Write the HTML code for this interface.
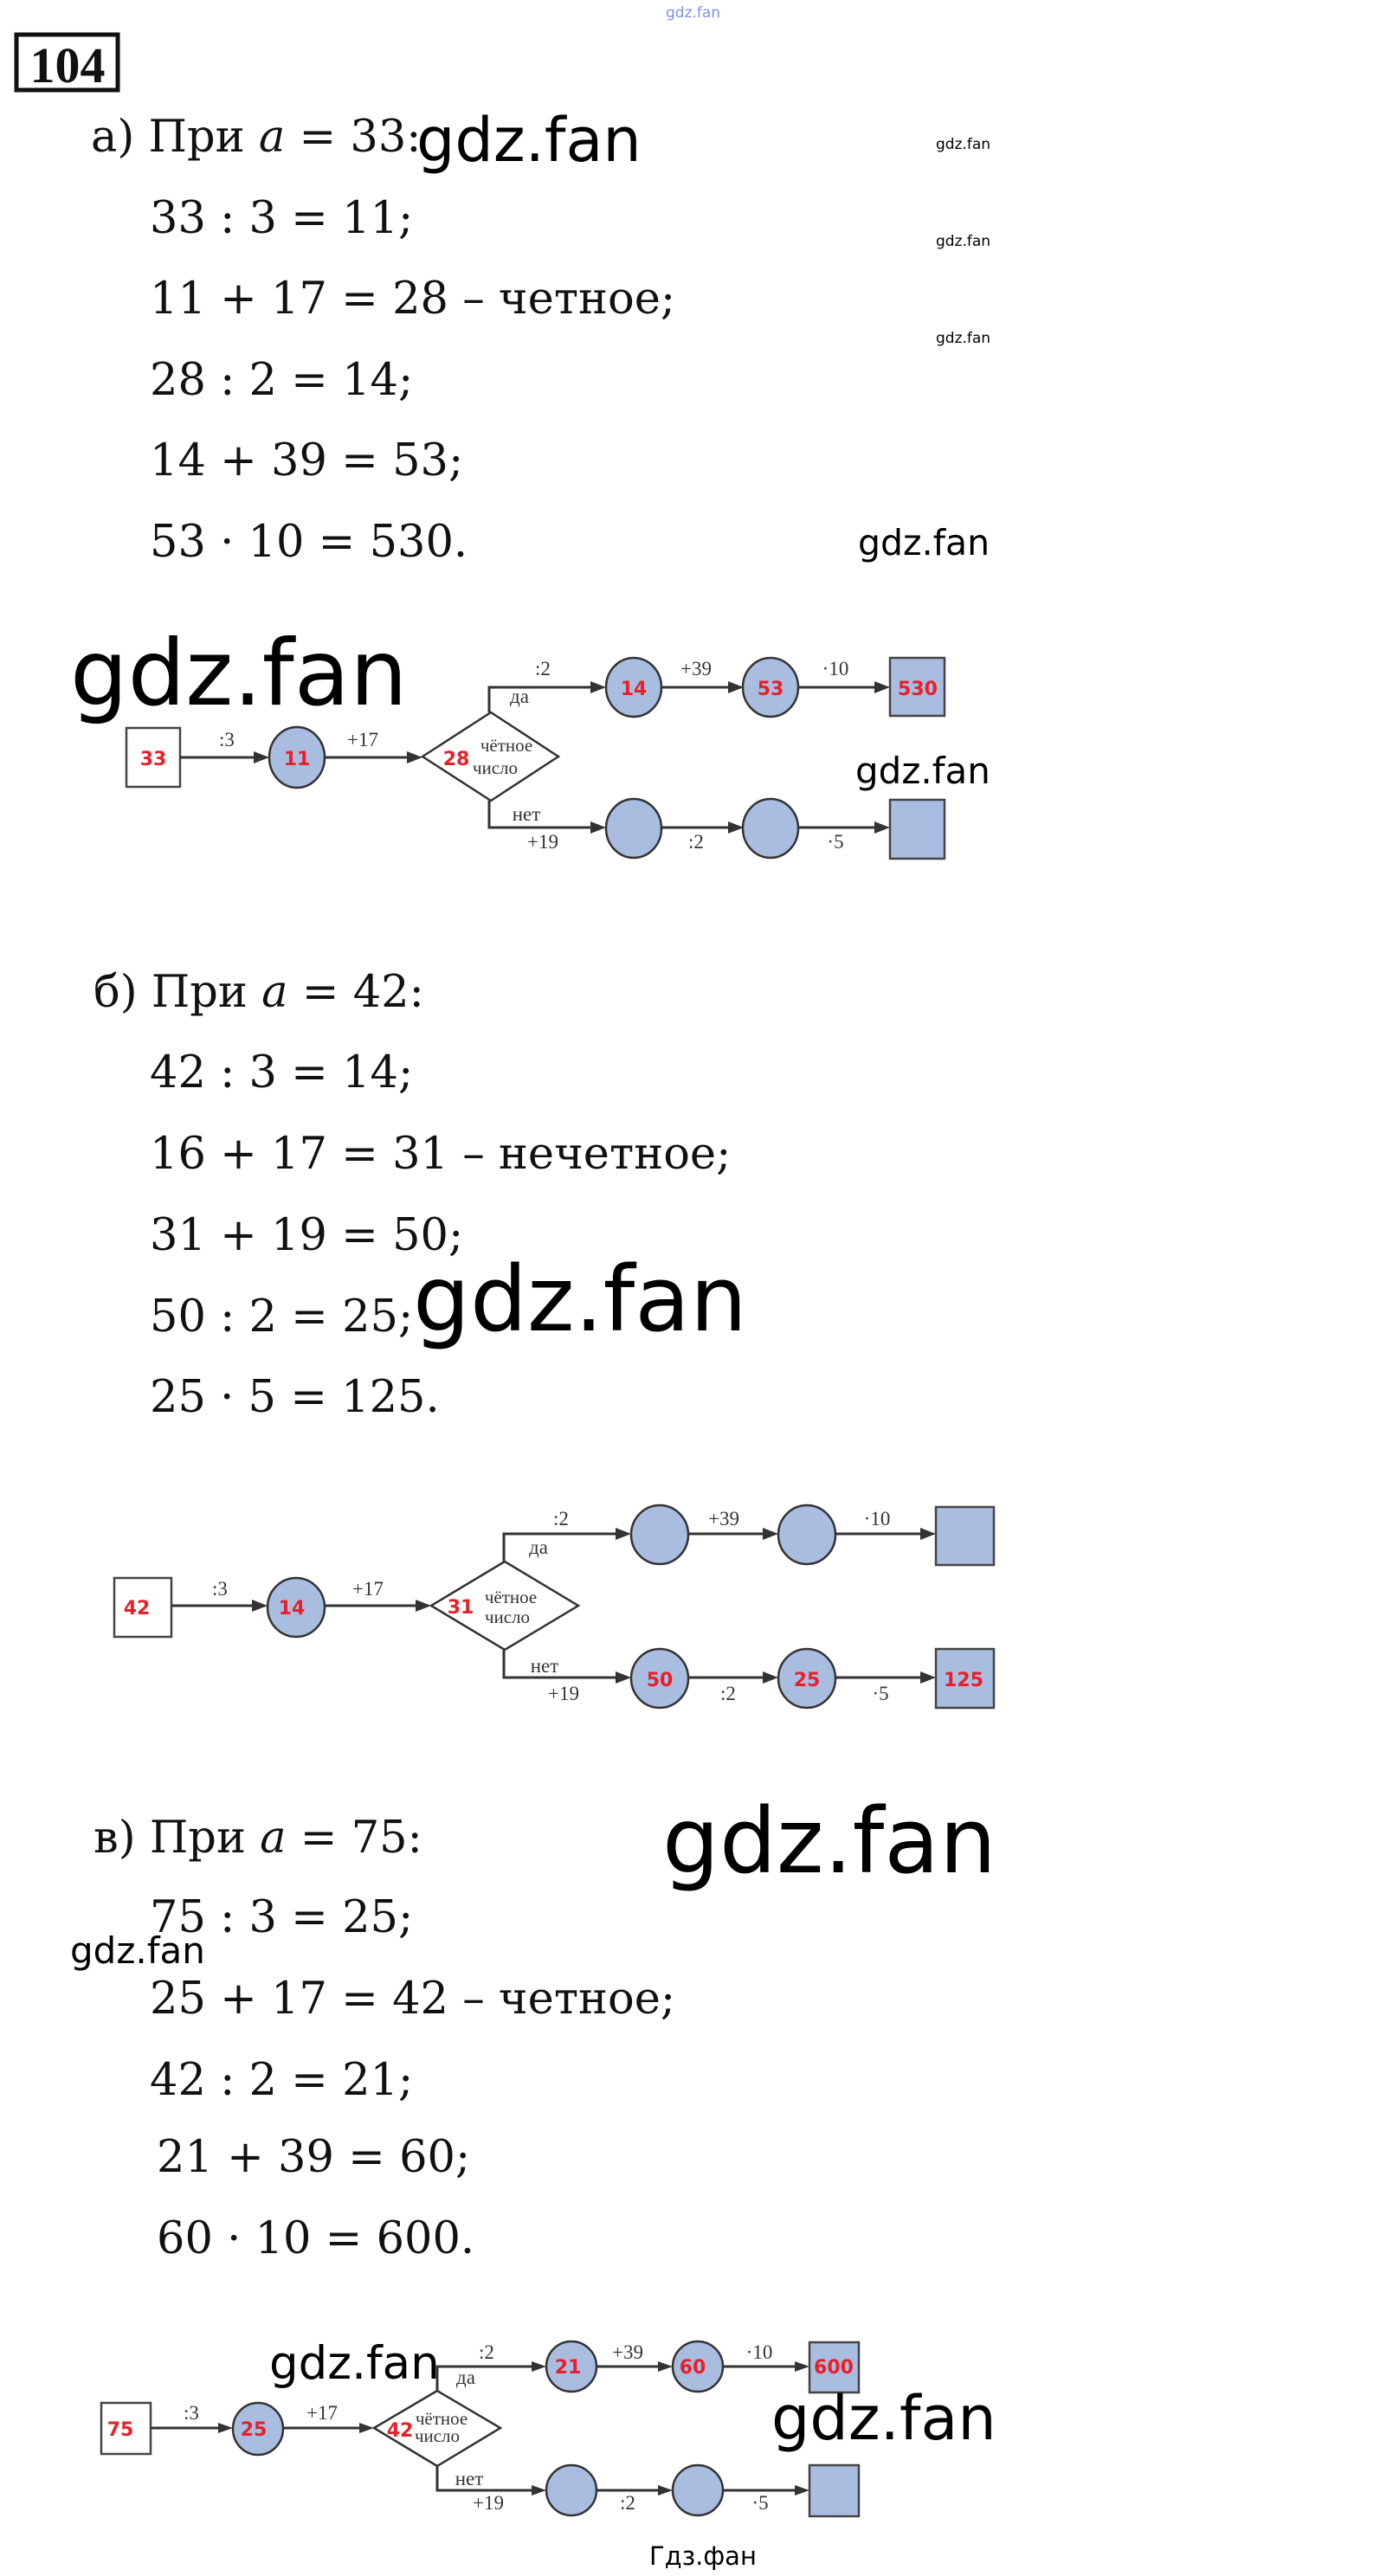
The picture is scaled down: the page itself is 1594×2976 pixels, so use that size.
<!DOCTYPE html>
<html><head><meta charset="utf-8"><style>
html,body{margin:0;padding:0;background:#fff;}
svg{display:block;}
.t{font-family:"DejaVu Serif","Liberation Serif",serif;font-size:51px;fill:#111;}
.w{font-family:"DejaVu Sans","Liberation Sans",sans-serif;fill:#000;}
.l{font-family:"Liberation Serif","DejaVu Serif",serif;font-size:23px;fill:#333;text-anchor:middle;}
.d{font-family:"Liberation Serif","DejaVu Serif",serif;font-size:21px;fill:#333;text-anchor:middle;}
.r{font-family:"DejaVu Sans","Liberation Sans",sans-serif;font-weight:bold;font-size:22px;fill:#e8202a;text-anchor:middle;}
.ln{stroke:#333;stroke-width:3;fill:none;}
.ar{fill:#333;}
.c{fill:#a9bde0;stroke:#333;stroke-width:2.5;}
.sq{fill:#fff;stroke:#444;stroke-width:2.5;}
.bs{fill:#a9bde0;stroke:#444;stroke-width:2.5;}
</style></head><body>
<svg width="1594" height="2976" viewBox="0 0 1594 2976" xmlns="http://www.w3.org/2000/svg">
<!-- header -->
<text x="769" y="20" class="w" font-size="17" fill="#7a8ad8" style="fill:#8090e0">gdz.fan</text>
<rect x="19" y="40" width="117" height="64" fill="none" stroke="#111" stroke-width="5"/>
<text x="78" y="95" font-family="Liberation Serif,serif" font-weight="bold" font-size="58" text-anchor="middle" fill="#111">104</text>

<!-- section a -->
<text x="105" y="175" class="t">а) При <tspan font-style="italic">a</tspan> = 33:</text>
<text x="481" y="186" class="w" font-size="70">gdz.fan</text>
<text x="1081" y="172" class="w" font-size="17">gdz.fan</text>
<text x="1081" y="284" class="w" font-size="17">gdz.fan</text>
<text x="1081" y="396" class="w" font-size="17">gdz.fan</text>
<text x="173" y="269" class="t">33 : 3 = 11;</text>
<text x="173" y="362" class="t">11 + 17 = 28 – четное;</text>
<text x="173" y="456" class="t">28 : 2 = 14;</text>
<text x="173" y="549" class="t">14 + 39 = 53;</text>
<text x="173" y="643" class="t">53 · 10 = 530.</text>
<text x="991" y="641" class="w" font-size="41">gdz.fan</text>

<!-- diagram 1 -->
<text x="81" y="814" class="w" font-size="105">gdz.fan</text>
<rect x="146" y="841" width="62" height="68" class="sq"/>
<line x1="208" y1="875" x2="297" y2="875" class="ln"/><polygon points="311,875 293,868 293,882" class="ar"/>
<ellipse cx="343" cy="875" rx="32" ry="35" class="c"/>
<line x1="375" y1="875" x2="474" y2="875" class="ln"/><polygon points="488,875 470,868 470,882" class="ar"/>
<polygon points="488,874 567,823 645,874 567,925" fill="#fff" stroke="#333" stroke-width="2.5"/>
<polyline points="565,823 565,794 686,794" class="ln"/><polygon points="700,794 682,787 682,801" class="ar"/>
<ellipse cx="732" cy="794" rx="32" ry="34" class="c"/>
<line x1="764" y1="794" x2="845" y2="794" class="ln"/><polygon points="859,794 841,787 841,801" class="ar"/>
<ellipse cx="890" cy="794" rx="32" ry="34" class="c"/>
<line x1="922" y1="794" x2="1014" y2="794" class="ln"/><polygon points="1028,794 1010,787 1010,801" class="ar"/>
<rect x="1028" y="760" width="63" height="67" class="bs"/>
<polyline points="565,925 565,956 686,956" class="ln"/><polygon points="700,956 682,949 682,963" class="ar"/>
<ellipse cx="732" cy="957" rx="32" ry="34" class="c"/>
<line x1="764" y1="956" x2="845" y2="956" class="ln"/><polygon points="859,956 841,949 841,963" class="ar"/>
<ellipse cx="890" cy="957" rx="32" ry="34" class="c"/>
<line x1="922" y1="956" x2="1014" y2="956" class="ln"/><polygon points="1028,956 1010,949 1010,963" class="ar"/>
<rect x="1028" y="924" width="63" height="68" class="bs"/>
<text x="262" y="862" class="l">:3</text><text x="419" y="862" class="l">+17</text>
<text x="627" y="780" class="l">:2</text><text x="600" y="812" class="l">да</text>
<text x="804" y="780" class="l">+39</text><text x="965" y="780" class="l">·10</text>
<text x="608" y="948" class="l">нет</text><text x="627" y="980" class="l">+19</text>
<text x="804" y="980" class="l">:2</text><text x="965" y="980" class="l">·5</text>
<text x="585" y="868" class="d">чётное</text><text x="572" y="894" class="d">число</text>
<text x="177" y="884" class="r">33</text><text x="343" y="884" class="r">11</text>
<text x="527" y="884" class="r">28</text><text x="732" y="803" class="r">14</text>
<text x="890" y="803" class="r">53</text><text x="1060" y="803" class="r">530</text>
<text x="988" y="905" class="w" font-size="42">gdz.fan</text>

<!-- section b -->
<text x="108" y="1163" class="t">б) При <tspan font-style="italic">a</tspan> = 42:</text>
<text x="173" y="1256" class="t">42 : 3 = 14;</text>
<text x="173" y="1350" class="t">16 + 17 = 31 – нечетное;</text>
<text x="173" y="1444" class="t">31 + 19 = 50;</text>
<text x="173" y="1538" class="t">50 : 2 = 25;</text>
<text x="173" y="1631" class="t">25 · 5 = 125.</text>
<text x="477" y="1537" class="w" font-size="104">gdz.fan</text>

<!-- diagram 2 -->
<rect x="132" y="1823" width="66" height="68" class="sq"/>
<line x1="198" y1="1855" x2="295" y2="1855" class="ln"/><polygon points="309,1855 291,1848 291,1862" class="ar"/>
<ellipse cx="342" cy="1857" rx="33" ry="34" class="c"/>
<line x1="375" y1="1855" x2="484" y2="1855" class="ln"/><polygon points="498,1855 480,1848 480,1862" class="ar"/>
<polygon points="498,1855 583,1804 668,1855 583,1906" fill="#fff" stroke="#333" stroke-width="2.5"/>
<polyline points="582,1804 582,1772 715,1772" class="ln"/><polygon points="729,1772 711,1765 711,1779" class="ar"/>
<ellipse cx="762" cy="1773" rx="33" ry="34" class="c"/>
<line x1="795" y1="1772" x2="885" y2="1772" class="ln"/><polygon points="899,1772 881,1765 881,1779" class="ar"/>
<ellipse cx="932" cy="1773" rx="33" ry="34" class="c"/>
<line x1="965" y1="1772" x2="1067" y2="1772" class="ln"/><polygon points="1081,1772 1063,1765 1063,1779" class="ar"/>
<rect x="1081" y="1741" width="67" height="67" class="bs"/>
<polyline points="582,1906 582,1938 715,1938" class="ln"/><polygon points="729,1938 711,1931 711,1945" class="ar"/>
<ellipse cx="762" cy="1939" rx="33" ry="34" class="c"/>
<line x1="795" y1="1938" x2="885" y2="1938" class="ln"/><polygon points="899,1938 881,1931 881,1945" class="ar"/>
<ellipse cx="932" cy="1939" rx="33" ry="34" class="c"/>
<line x1="965" y1="1938" x2="1067" y2="1938" class="ln"/><polygon points="1081,1938 1063,1931 1063,1945" class="ar"/>
<rect x="1081" y="1905" width="67" height="68" class="bs"/>
<text x="254" y="1843" class="l">:3</text><text x="425" y="1843" class="l">+17</text>
<text x="648" y="1762" class="l">:2</text><text x="622" y="1795" class="l">да</text>
<text x="836" y="1762" class="l">+39</text><text x="1013" y="1762" class="l">·10</text>
<text x="629" y="1932" class="l">нет</text><text x="651" y="1964" class="l">+19</text>
<text x="841" y="1964" class="l">:2</text><text x="1017" y="1964" class="l">·5</text>
<text x="590" y="1852" class="d">чётное</text><text x="586" y="1875" class="d">число</text>
<text x="158" y="1865" class="r">42</text><text x="337" y="1865" class="r">14</text>
<text x="532" y="1864" class="r">31</text><text x="762" y="1948" class="r">50</text>
<text x="932" y="1948" class="r">25</text><text x="1113" y="1948" class="r">125</text>

<!-- section c -->
<text x="108" y="2140" class="t">в) При <tspan font-style="italic">a</tspan> = 75:</text>
<text x="765" y="2163" class="w" font-size="104">gdz.fan</text>
<text x="173" y="2232" class="t">75 : 3 = 25;</text>
<text x="81" y="2268" class="w" font-size="42">gdz.fan</text>
<text x="173" y="2326" class="t">25 + 17 = 42 – четное;</text>
<text x="173" y="2420" class="t">42 : 2 = 21;</text>
<text x="181" y="2509" class="t">21 + 39 = 60;</text>
<text x="181" y="2603" class="t">60 · 10 = 600.</text>

<!-- diagram 3 -->
<rect x="117" y="2776" width="57" height="59" class="sq"/>
<line x1="174" y1="2805" x2="255" y2="2805" class="ln"/><polygon points="269,2805 252,2799 252,2811" class="ar"/>
<ellipse cx="298" cy="2806" rx="29" ry="30" class="c"/>
<line x1="327" y1="2805" x2="418" y2="2805" class="ln"/><polygon points="432,2805 415,2799 415,2811" class="ar"/>
<polygon points="432,2805 505,2762 578,2805 505,2849" fill="#fff" stroke="#333" stroke-width="2.5"/>
<polyline points="505,2762 505,2734 617,2734" class="ln"/><polygon points="631,2734 614,2728 614,2740" class="ar"/>
<ellipse cx="660" cy="2734" rx="29" ry="29" class="c"/>
<line x1="689" y1="2734" x2="763" y2="2734" class="ln"/><polygon points="777,2734 760,2728 760,2740" class="ar"/>
<ellipse cx="806" cy="2734" rx="29" ry="29" class="c"/>
<line x1="835" y1="2734" x2="921" y2="2734" class="ln"/><polygon points="935,2734 918,2728 918,2740" class="ar"/>
<rect x="935" y="2706" width="57" height="58" class="bs"/>
<polyline points="505,2849 505,2877 617,2877" class="ln"/><polygon points="631,2877 614,2871 614,2883" class="ar"/>
<ellipse cx="660" cy="2877" rx="29" ry="29" class="c"/>
<line x1="689" y1="2877" x2="763" y2="2877" class="ln"/><polygon points="777,2877 760,2871 760,2883" class="ar"/>
<ellipse cx="806" cy="2877" rx="29" ry="29" class="c"/>
<line x1="835" y1="2877" x2="921" y2="2877" class="ln"/><polygon points="935,2877 918,2871 918,2883" class="ar"/>
<rect x="935" y="2848" width="57" height="59" class="bs"/>
<g style="font-size:20px">
<text x="221" y="2795" class="l" font-size="20">:3</text><text x="372" y="2795" class="l" font-size="20">+17</text>
<text x="562" y="2725" class="l" font-size="20">:2</text><text x="538" y="2754" class="l" font-size="20">да</text>
<text x="725" y="2725" class="l" font-size="20">+39</text><text x="877" y="2725" class="l" font-size="20">·10</text>
<text x="542" y="2871" class="l" font-size="20">нет</text><text x="564" y="2899" class="l" font-size="20">+19</text>
<text x="725" y="2899" class="l" font-size="20">:2</text><text x="878" y="2899" class="l" font-size="20">·5</text>
<text x="510" y="2801" class="d" font-size="18">чётное</text><text x="505" y="2821" class="d" font-size="18">число</text>
</g>
<text x="139" y="2814" class="r" font-size="19">75</text><text x="293" y="2814" class="r" font-size="19">25</text>
<text x="462" y="2815" class="r" font-size="19">42</text><text x="656" y="2742" class="r" font-size="19">21</text>
<text x="800" y="2742" class="r" font-size="19">60</text><text x="963" y="2742" class="r" font-size="19">600</text>
<text x="311" y="2748" class="w" font-size="53">gdz.fan</text>
<text x="891" y="2818" class="w" font-size="70">gdz.fan</text>
<text x="750" y="2963" class="w" font-size="29">Гдз.фан</text>
</svg>
</body></html>
